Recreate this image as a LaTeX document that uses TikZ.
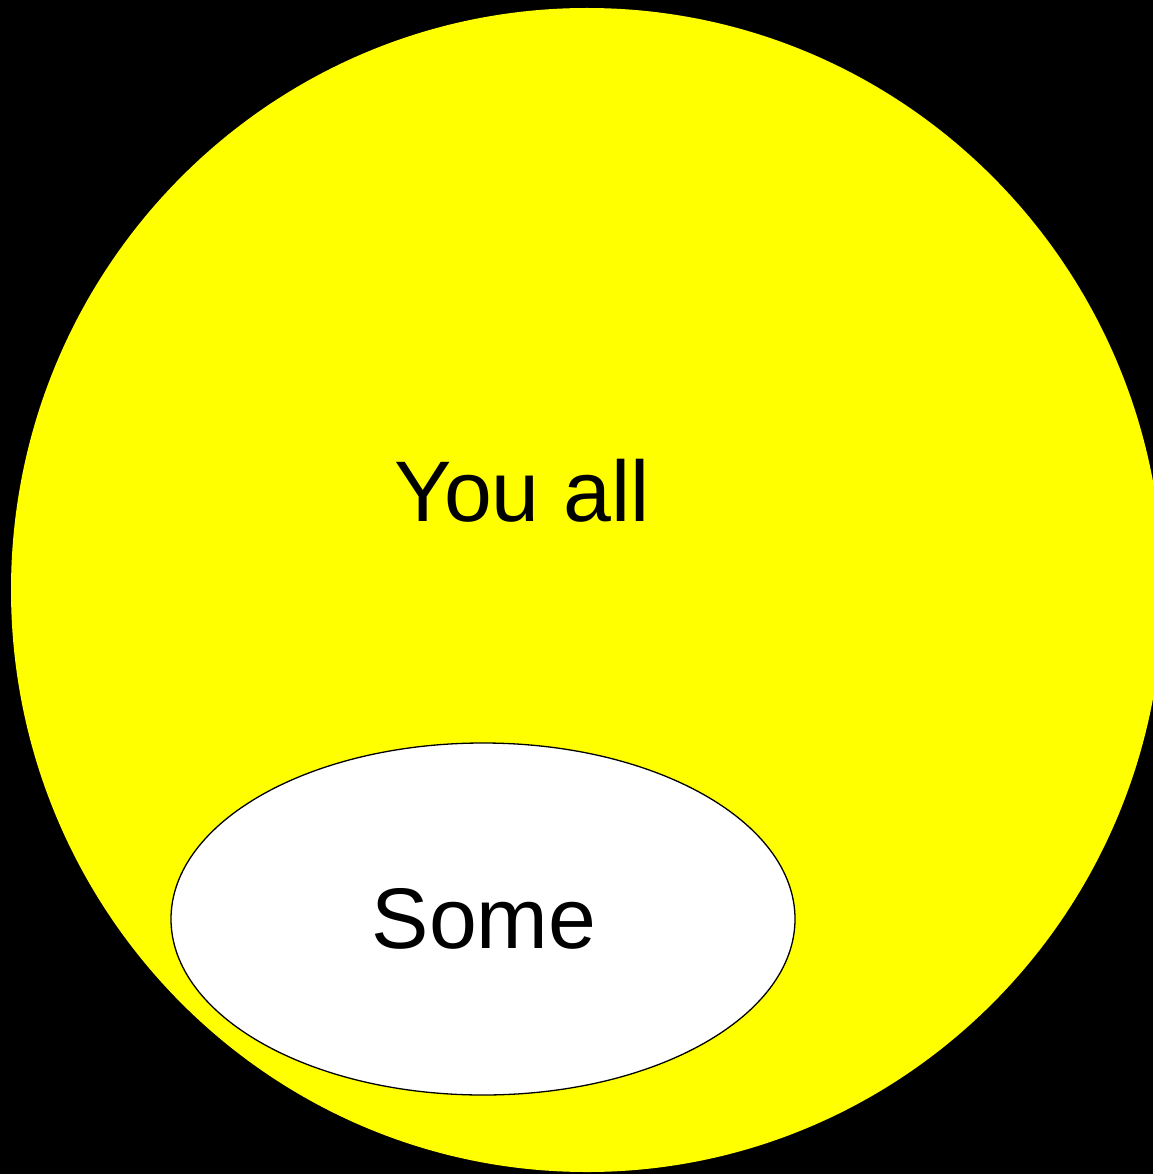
\documentclass[tikz,border=0pt]{standalone}
\usepackage{fontspec}
\setmainfont{Liberation Sans}
\usetikzlibrary{shapes.geometric}
\definecolor{pureyellow}{RGB}{255,255,0}
\begin{document}
\begin{tikzpicture}[x=1pt,y=-1pt,
  lbl/.style={font=\fontsize{86}{98}\selectfont, text=black, inner sep=0pt, anchor=base}]
\useasboundingbox (0,0) rectangle (1153,1174);
\fill[black] (0,0) rectangle (1153,1174);
\fill[pureyellow] (587,590) ellipse [x radius=576, y radius=582];
\node[draw=black, line width=1.3pt, fill=white, ellipse, minimum width=624, minimum height=352, inner sep=0pt] (some) at (483,919) {};
\node[lbl] (youall) at (522,521) {You all};
\node[lbl] (somet) at (484,948) {Some};
\end{tikzpicture}
\end{document}
